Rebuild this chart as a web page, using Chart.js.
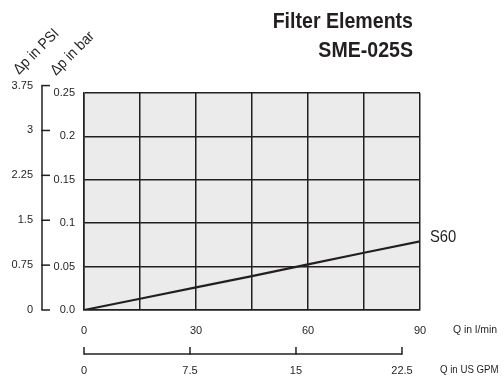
<!DOCTYPE html>
<html>
<head>
<meta charset="utf-8">
<script src="https://cdn.jsdelivr.net/npm/chart.js@4/dist/chart.umd.min.js"></script>
<style>
  html, body { margin: 0; padding: 0; background: #fff; }
  #wrap { width: 504px; height: 381px; }
</style>
</head>
<body>
<div id="wrap"><canvas id="filterChart"></canvas></div>
<script>
var flowLpm = [0, 15, 30, 45, 60, 75, 90];
var dpBar = [0, 0.013, 0.026, 0.039, 0.0525, 0.066, 0.079];

var lpmTicks = [0, 15, 30, 45, 60, 75, 90];
var lpmLabels = [0, 30, 60, 90];
var barTicks = [0, 0.05, 0.1, 0.15, 0.2, 0.25];
var barLabels = ['0.0', '0.05', '0.1', '0.15', '0.2', '0.25'];
var psiTicks = [0, 0.75, 1.5, 2.25, 3, 3.75];
var gpmTicks = [0, 7.5, 15, 22.5];

var PSI_PER_BAR = 14.5038;
var LPM_PER_GPM = 3.78541;

var FONT = "'Liberation Sans', Arial, sans-serif";
var INK = '#231f20';

// squeezed text, the original uses a condensed face
function narrowText(ctx, text, x, y, sx, angle) {
  ctx.save();
  ctx.translate(x, y);
  if (angle) ctx.rotate(angle);
  ctx.scale(sx, 1);
  ctx.fillText(text, 0, 0);
  ctx.restore();
}

var plotBackground = {
  id: 'plotBackground',
  beforeDraw: function(chart) {
    var a = chart.chartArea, ctx = chart.ctx;
    ctx.save();
    ctx.fillStyle = '#ebebeb';
    ctx.fillRect(a.left, a.top, a.right - a.left, a.bottom - a.top);
    ctx.restore();
  }
};

// the PSI and GPM scales are just conversions of the bar / l/min scales
var extraAxes = {
  id: 'extraAxes',
  afterDraw: function(chart) {
    var ctx = chart.ctx;
    var x = chart.scales.x, y = chart.scales.y;
    ctx.save();
    ctx.strokeStyle = INK;
    ctx.fillStyle = INK;
    ctx.lineWidth = 1.5;

    // PSI axis
    var ax = 42;
    var yTop = y.getPixelForValue(psiTicks[psiTicks.length - 1] / PSI_PER_BAR);
    var yBot = y.getPixelForValue(0);
    ctx.beginPath();
    ctx.moveTo(ax, yTop);
    ctx.lineTo(ax, yBot);
    ctx.stroke();
    ctx.font = '11px ' + FONT;
    ctx.textAlign = 'right';
    ctx.textBaseline = 'middle';
    psiTicks.forEach(function(v) {
      var py = y.getPixelForValue(v / PSI_PER_BAR);
      ctx.beginPath();
      ctx.moveTo(ax - 0.75, py);
      ctx.lineTo(ax + 8, py);
      ctx.stroke();
      ctx.fillText(String(v), 33, py);
    });

    // GPM axis
    var gy = 354;
    var gx0 = x.getPixelForValue(0);
    var gx1 = x.getPixelForValue(gpmTicks[gpmTicks.length - 1] * LPM_PER_GPM);
    ctx.beginPath();
    ctx.moveTo(gx0, gy);
    ctx.lineTo(gx1, gy);
    ctx.stroke();
    ctx.textAlign = 'center';
    ctx.textBaseline = 'middle';
    gpmTicks.forEach(function(v) {
      var px = x.getPixelForValue(v * LPM_PER_GPM);
      ctx.beginPath();
      ctx.moveTo(px, gy + 0.75);
      ctx.lineTo(px, gy - 7);
      ctx.stroke();
      ctx.fillText(String(v), px, 370.5);
    });

    // axis titles
    ctx.textAlign = 'left';
    narrowText(ctx, 'Q in l/min', 453, 329.5, 0.95);
    narrowText(ctx, 'Q in US GPM', 440, 369.5, 0.88);

    ctx.font = '15px ' + FONT;
    ctx.textBaseline = 'alphabetic';
    narrowText(ctx, '\u0394p in PSI', 19, 75, 0.92, -Math.PI / 4);
    narrowText(ctx, '\u0394p in bar', 56, 76, 0.92, -Math.PI / 4);

    // curve label
    var last = flowLpm.length - 1;
    ctx.font = '17px ' + FONT;
    ctx.textBaseline = 'middle';
    narrowText(ctx, 'S60', x.getPixelForValue(flowLpm[last]) + 10, y.getPixelForValue(dpBar[last]) - 4, 0.87);

    // heading
    ctx.font = 'bold 22px ' + FONT;
    ctx.textAlign = 'right';
    narrowText(ctx, 'Filter Elements', 413, 22, 0.89);
    narrowText(ctx, 'SME-025S', 413, 51, 0.89);
    ctx.restore();
  }
};

var ctx = document.getElementById('filterChart');

var filterChart = new Chart(ctx, {
  type: 'scatter',
  data: {
    datasets: [{
      label: 'S60',
      data: flowLpm.map(function(q, i) { return { x: q, y: dpBar[i] }; }),
      showLine: true,
      borderColor: INK,
      borderWidth: 2.2,
      pointRadius: 0,
      fill: false
    }]
  },
  options: {
    responsive: true,
    maintainAspectRatio: false,
    animation: false,
    layout: { padding: { left: 44, right: 84, top: 93, bottom: 41 } },
    plugins: {
      legend: { display: false },
      tooltip: { enabled: false }
    },
    scales: {
      x: {
        type: 'linear',
        min: 0,
        max: 90,
        afterFit: function(s) { s.height = 30; },
        afterBuildTicks: function(s) {
          s.ticks = lpmTicks.map(function(v) { return { value: v }; });
        },
        ticks: {
          padding: 14,
          maxRotation: 0,
          autoSkip: false,
          color: INK,
          font: { family: FONT, size: 11 },
          callback: function(v) { return lpmLabels.indexOf(v) >= 0 ? String(v) : ''; }
        },
        grid: { color: INK, lineWidth: 1.5, drawTicks: false },
        border: { display: true, color: INK, width: 1.5 }
      },
      y: {
        type: 'linear',
        min: 0,
        max: 0.25,
        afterFit: function(s) { s.width = 40; },
        afterBuildTicks: function(s) {
          s.ticks = barTicks.map(function(v) { return { value: v }; });
        },
        ticks: {
          padding: 9,
          autoSkip: false,
          color: INK,
          font: { family: FONT, size: 11 },
          callback: function(v) {
            var i = barTicks.indexOf(v);
            return i >= 0 ? barLabels[i] : '';
          }
        },
        grid: { color: INK, lineWidth: 1.5, drawTicks: false },
        border: { display: true, color: INK, width: 1.5 }
      }
    }
  },
  plugins: [plotBackground, extraAxes]
});
</script>
</body>
</html>
